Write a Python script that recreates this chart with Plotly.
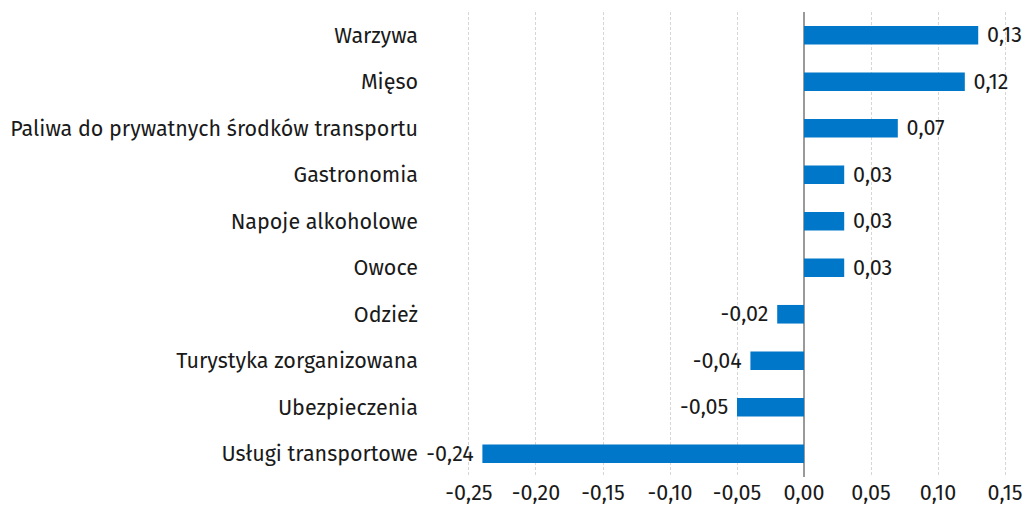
import plotly.graph_objects as go

categories = ["Warzywa", "Mięso", "Paliwa do prywatnych środków transportu", "Gastronomia",
              "Napoje alkoholowe", "Owoce", "Odzież", "Turystyka zorganizowana",
              "Ubezpieczenia", "Usługi transportowe"]
values = [0.13, 0.12, 0.07, 0.03, 0.03, 0.03, -0.02, -0.04, -0.05, -0.24]
tick_vals = [-0.25, -0.20, -0.15, -0.10, -0.05, 0.00, 0.05, 0.10, 0.15]

def fmt(v):
    return f"{v:.2f}".replace(".", ",")

def label(v):
    s = fmt(v)
    return ("\u00a0" + s) if v >= 0 else (s + "\u00a0")

FONT = "Fira Sans, Noto Sans, sans-serif"
FS = 21.5

fig = go.Figure(go.Bar(
    x=values, y=categories, orientation="h",
    marker=dict(color="#0077C8", line=dict(width=0)),
    width=0.4,
    text=[label(v) for v in values], textposition="outside",
    textfont=dict(size=FS, color="#1a1a1a", family=FONT),
    constraintext="none",
    cliponaxis=False,
))

# page body has an 8px margin, so the figure is sized/offset to compensate
fig.update_layout(
    width=1019, height=499,
    margin=dict(l=424, r=0, t=4, b=30, autoexpand=False),
    paper_bgcolor="white", plot_bgcolor="white",
    font=dict(family=FONT, size=FS, color="#1a1a1a"),
    showlegend=False,
    xaxis=dict(range=[-0.2776, 0.1664], tickvals=tick_vals,
               ticktext=[fmt(v) for v in tick_vals], automargin=False,
               showgrid=True, gridcolor="#d6d6d6", griddash="3px,2px", gridwidth=1,
               zeroline=True, zerolinecolor="#9a9a9a", zerolinewidth=1.5,
               showline=False, ticks=""),
    yaxis=dict(autorange="reversed", showgrid=False, ticks="", showline=False,
               automargin=False, ticklabelstandoff=13),
)

fig.write_html("out.html")
